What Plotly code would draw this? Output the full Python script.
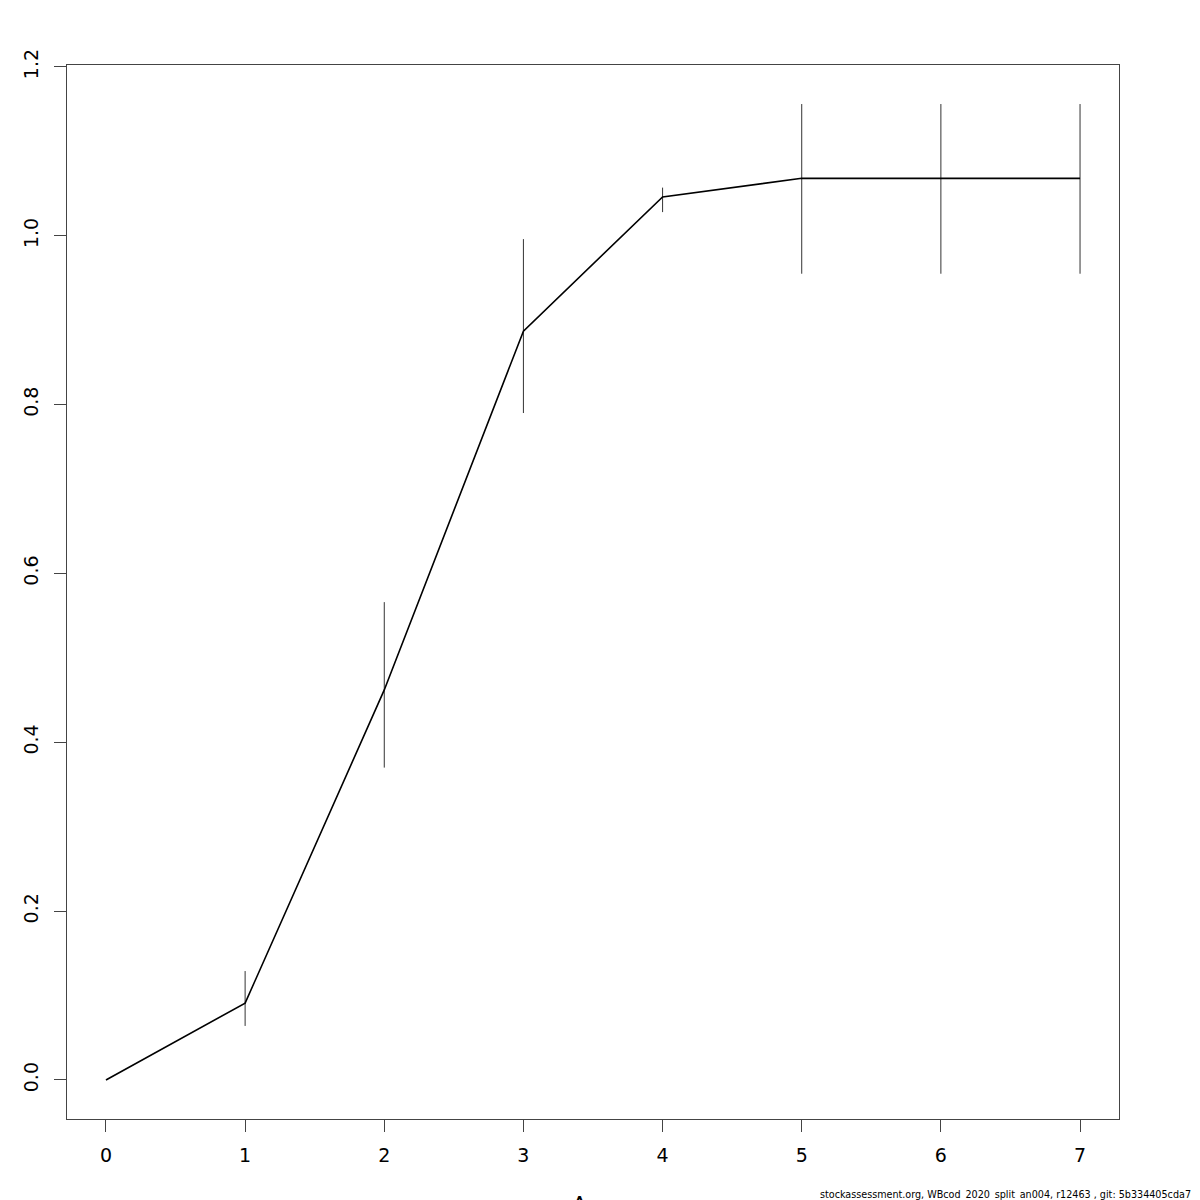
import plotly.graph_objects as go

ages = [0, 1, 2, 3, 4, 5, 6, 7]
sel = [0.0, 0.091, 0.462, 0.887, 1.046, 1.068, 1.068, 1.068]
upper = [0.0, 0.129, 0.566, 0.996, 1.057, 1.156, 1.156, 1.156]
lower = [0.0, 0.064, 0.370, 0.790, 1.028, 0.955, 0.955, 0.955]
y_ticks = [0.0, 0.2, 0.4, 0.6, 0.8, 1.0, 1.2]
x_ticks = ages

err_plus = [u - s for u, s in zip(upper, sel)]
err_minus = [s - l for s, l in zip(sel, lower)]

ymin = min(lower + sel)
ymax = max(upper + sel)
ypad = (ymax - ymin) * 0.04
xpad = (max(ages) - min(ages)) * 0.04

fig = go.Figure()
fig.add_trace(go.Scatter(
    x=ages, y=sel, mode="lines",
    line=dict(color="black", width=1.6),
    error_y=dict(type="data", symmetric=False, array=err_plus, arrayminus=err_minus,
                 width=0, thickness=1, color="#333333"),
    showlegend=False,
))

# page has an 8px body margin; compensate so the plot box sits at 65..1119 on screen
OFF = 8
L, T = 65 - OFF, 65 - OFF
W = H = 1200
R = W - (1119 - OFF)
B = H - (1119 - OFF)
plot_w = W - L - R
plot_h = H - T - B

font = "DejaVu Sans, sans-serif"
fig.update_layout(
    width=W, height=H,
    margin=dict(l=L, r=R, t=T, b=B),
    paper_bgcolor="white", plot_bgcolor="white",
    font=dict(family=font, size=19, color="black"),
    xaxis=dict(range=[min(ages) - xpad, max(ages) + xpad], tickvals=x_ticks,
               showgrid=False, zeroline=False, showline=True, mirror=True,
               linecolor="#444444", linewidth=1, ticks="outside", ticklen=12,
               tickcolor="#444444", ticklabelstandoff=7),
    yaxis=dict(range=[ymin - ypad, ymax + ypad], tickvals=y_ticks,
               ticktext=[f"{v:.1f}" for v in y_ticks], tickangle=-90,
               showgrid=False, zeroline=False, showline=True, mirror=True,
               linecolor="#444444", linewidth=1, ticks="outside", ticklen=12,
               tickcolor="#444444", ticklabelstandoff=8),
    annotations=[
        dict(text="Age", xref="paper", yref="paper", showarrow=False,
             x=0.5, xanchor="center",
             y=((1119 - OFF) - (1204 - OFF)) / plot_h, yanchor="middle",
             font=dict(size=22)),
        dict(text="stockassessment.org, WBcod_2020_split_an004, r12463 , git: 5b334405cda7",
             xref="paper", yref="paper", showarrow=False,
             x=((1193 - OFF) - L) / plot_w, xanchor="right",
             y=((1119 - OFF) - (1194 - OFF)) / plot_h, yanchor="middle",
             font=dict(size=10.7, family="Liberation Sans Narrow, DejaVu Sans Condensed, sans-serif")),
    ],
)

fig.write_html("out.html")
